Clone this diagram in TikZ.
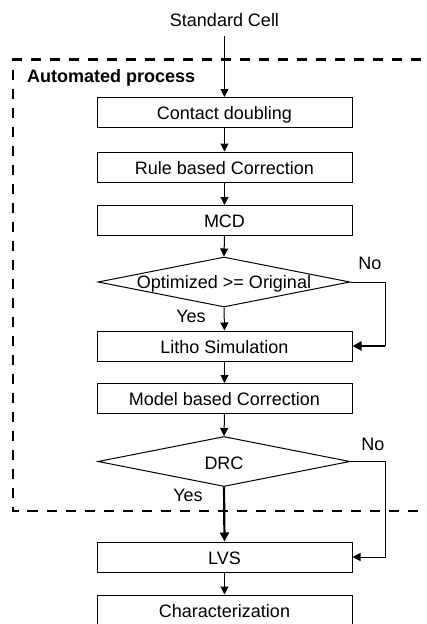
\documentclass[tikz,border=0pt]{standalone}
\usepackage{fontspec}
\setmainfont{Liberation Sans}
\usetikzlibrary{shapes.geometric,arrows.meta}
% decision text that does not widen the diamond
\newcommand{\dtext}[2][-6.5pt]{\smash{\makebox[0pt]{\raisebox{#1}{#2}}}}
\begin{document}
\begin{tikzpicture}[x=1pt,y=-1pt,
  every node/.style={font=\fontsize{18}{20}\selectfont},
  stepbox/.style={draw, line width=1pt, minimum width=255pt, minimum height=30pt,
    inner sep=0pt, text height=14pt, text depth=0pt},
  test/.style={draw, diamond, line width=1pt, minimum width=252pt,
    minimum height=50pt, inner sep=0pt},
  flow/.style={line width=1pt, -{Triangle[length=8pt,width=8pt]}},
  heavy/.style={line width=2.2pt, -{Triangle[length=9pt,width=9pt]}},
  frame/.style={line width=2.5pt, dash pattern=on 10.5pt off 8.5pt},
  lbl/.style={inner sep=0pt, anchor=base}]
\useasboundingbox (0,0) rectangle (427,624);

% automated-process frame (open on the right)
\draw[frame] (440,59.5) -- (13,59.5) -- (13,511) -- (440,511);
\node[lbl, anchor=base west, font=\fontsize{18}{20}\selectfont\bfseries] (auto) at (27,82) {Automated process};

% flow steps
\node[lbl] (sc) at (224.5,26) {Standard Cell};
\node[stepbox] (cd) at (224.5,112.5) {Contact doubling};
\node[stepbox] (rbc) at (224.5,167) {Rule based Correction};
\node[stepbox] (mcd) at (224.5,220.5) {MCD};
\node[test] (d1) at (224,282) {\dtext{Optimized >= Original}};
\node[stepbox] (litho) at (224.5,346) {Litho Simulation};
\node[stepbox] (mbc) at (224.5,398.5) {Model based Correction};
\node[test] (d2) at (224,461.5) {\dtext[-8pt]{DRC}};
\node[stepbox] (lvs) at (224.5,557) {LVS};
\node[stepbox] (char) at (224.5,610) {Characterization};

% branch labels
\node[lbl] (no1) at (370,269) {No};
\node[lbl] (yes1) at (191,322) {Yes};
\node[lbl] (no2) at (373,450) {No};
\node[lbl] (yes2) at (188,501) {Yes};

% connectors
\draw[flow, shorten <=10pt] (sc.south) -- (cd.north);
\draw[flow] (cd.south) -- (rbc.north);
\draw[flow] (rbc.south) -- (mcd.north);
\draw[flow] (mcd.south) -- (d1.north);
\draw[flow] (d1.south) -- (litho.north);
\draw[flow] (litho.south) -- (mbc.north);
\draw[flow] (mbc.south) -- (d2.north);
\draw[heavy] (d2.south) -- (lvs.north);
\draw[flow] (lvs.south) -- (char.north);

\coordinate (r1) at (385,346);
\coordinate (r2) at (385,557);
\draw[line width=1pt] (d1.east) -| (r1);
\draw[heavy] (r1) -- (litho.east);
\draw[flow] (d2.east) -| (r2) -- (lvs.east);
\end{tikzpicture}
\end{document}
